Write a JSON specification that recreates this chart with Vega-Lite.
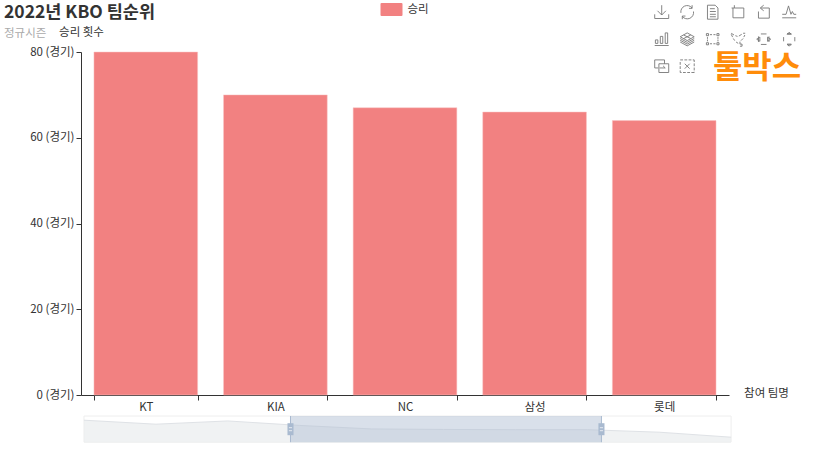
{
"$schema":"https://vega.github.io/schema/vega-lite/v6.json",
"width":648,"height":343,
"autosize":{"type":"none"},
"padding":{"left":81,"top":52,"right":102,"bottom":55},
"background":"white",
"config":{"font":"Noto Sans CJK KR","view":{"stroke":null}},
"title":{"text":"2022년 KBO 팀순위","subtitle":"정규시즌","anchor":"start","frame":"group","dx":-77,"offset":-41,"fontSize":17.5,"fontWeight":"bold","color":"#333333","subtitleFontSize":11.5,"subtitleColor":"#aaaaaa","subtitlePadding":7},
"resolve":{"scale":{"x":"independent","y":"independent"}},
"layer":[
{"data":{"values":[
{"team":"KT","wins":80,"series":"승리"},
{"team":"KIA","wins":70,"series":"승리"},
{"team":"NC","wins":67,"series":"승리"},
{"team":"삼성","wins":66,"series":"승리"},
{"team":"롯데","wins":64,"series":"승리"}]},
"mark":{"type":"bar","stroke":"#f8c4c4","strokeWidth":0.5},
"encoding":{
"x":{"field":"team","type":"nominal","sort":null,"scale":{"paddingInner":0.2,"paddingOuter":0.1},
"axis":{"title":"참여 팀명","titleX":685,"titleY":-2,"titleAlign":"center","titleBaseline":"middle","titleFontSize":11.5,"titleFontWeight":"normal","titleColor":"#333333","labelAngle":0,"labelFontSize":11.5,"labelColor":"#333333","labelPadding":1,"tickBand":"extent","tickSize":5,"tickColor":"#333333","domainColor":"#333333","grid":false}},
"y":{"field":"wins","type":"quantitative","scale":{"domain":[0,80]},
"axis":{"values":[0,20,40,60,80],"title":"승리 횟수","titleAngle":0,"titleX":0,"titleY":-19.5,"titleAlign":"center","titleBaseline":"middle","titleFontSize":11.5,"titleFontWeight":"normal","titleColor":"#333333","labelExpr":"datum.label + ' (경기)'","labelFontSize":11.5,"labelColor":"#333333","labelPadding":2,"tickSize":5,"tickColor":"#333333","domainColor":"#333333","grid":false}},
"color":{"field":"series","type":"nominal","scale":{"range":["#F28181"]},
"legend":{"title":null,"orient":"none","legendX":299.5,"legendY":-53.5,"symbolType":"M-1,-0.5Q-1,-0.58 -0.9,-0.58H0.9Q1,-0.58 1,-0.5V0.5Q1,0.58 0.9,0.58H-0.9Q-1,0.58 -1,0.5Z","symbolSize":484,"symbolStrokeWidth":0,"labelFontSize":11.5,"labelColor":"#333333","labelOffset":5}}
}},
{"layer":[
{"data":{"name":"frame","values":[{"start":0,"end":9,"low":0,"high":104.8}]},
"mark":{"type":"rect","fill":"#ffffff","stroke":"#eeeeee","strokeWidth":1},
"encoding":{
"x":{"field":"start","type":"quantitative","axis":null,"scale":{"domain":[-0.0417,8.971],"zero":false,"nice":false}},
"x2":{"field":"end"},
"y":{"field":"low","type":"quantitative","axis":null,"scale":{"domain":[188.8,1560.8],"zero":false,"nice":false}},
"y2":{"field":"high"}}},
{"data":{"values":[
{"i":0,"v":88},{"i":1,"v":72},{"i":2,"v":85},{"i":3,"v":67},{"i":4,"v":53},
{"i":5,"v":51},{"i":6,"v":50},{"i":7,"v":50},{"i":8,"v":40},{"i":9,"v":20}]},
"mark":{"type":"area","fill":"#EAECEE","line":{"color":"#DFE2E6","strokeWidth":1}},
"encoding":{
"x":{"field":"i","type":"quantitative","axis":null},
"y":{"field":"v","type":"quantitative","axis":null},
"y2":{"datum":0}}},
{"data":{"values":[{"start":2.872,"end":7.197,"low":0,"high":104.8}]},
"mark":{"type":"rect","fill":"#AEBDD2","opacity":0.47},
"encoding":{
"x":{"field":"start","type":"quantitative","axis":null},
"x2":{"field":"end"},
"y":{"field":"low","type":"quantitative","axis":null},
"y2":{"field":"high"}}},
{"data":{"values":[{"edge":2.872,"low":0,"high":104.8},{"edge":7.197,"low":0,"high":104.8}]},
"mark":{"type":"rule","color":"#A9BAD0","strokeWidth":1},
"encoding":{
"x":{"field":"edge","type":"quantitative","axis":null},
"y":{"field":"low","type":"quantitative","axis":null},
"y2":{"field":"high"}}},
{"data":{"values":[{"start":2.83,"end":2.914,"low":28,"high":76},{"start":7.155,"end":7.239,"low":28,"high":76}]},
"mark":{"type":"rect","fill":"#A9BAD0"},
"encoding":{
"x":{"field":"start","type":"quantitative","axis":null},
"x2":{"field":"end"},
"y":{"field":"low","type":"quantitative","axis":null},
"y2":{"field":"high"}}},
{"data":{"values":[
{"start":2.85,"end":2.894,"low":46},{"start":2.85,"end":2.894,"low":58},
{"start":7.175,"end":7.219,"low":46},{"start":7.175,"end":7.219,"low":58}]},
"mark":{"type":"rule","color":"#E4E9F0","strokeWidth":1},
"encoding":{
"x":{"field":"start","type":"quantitative","axis":null},
"x2":{"field":"end"},
"y":{"field":"low","type":"quantitative","axis":null}}}
]},
{"layer":[
{"data":{"values":[
{"col":0,"row":0,"icon":"download"},{"col":1,"row":0,"icon":"refresh"},{"col":2,"row":0,"icon":"data"},
{"col":3,"row":0,"icon":"zoom"},{"col":4,"row":0,"icon":"back"},{"col":5,"row":0,"icon":"line"},
{"col":0,"row":1,"icon":"bar"},{"col":1,"row":1,"icon":"stack"},{"col":2,"row":1,"icon":"rect"},
{"col":3,"row":1,"icon":"polygon"},{"col":4,"row":1,"icon":"lineX"},{"col":5,"row":1,"icon":"lineY"},
{"col":0,"row":2,"icon":"keep"},{"col":1,"row":2,"icon":"clear"}]},
"mark":{"type":"point","filled":false,"stroke":"#777777","strokeWidth":0.9,"size":196,"opacity":1},
"encoding":{
"x":{"field":"col","type":"quantitative","axis":null,"scale":{"domain":[-22.773,2.639],"zero":false,"nice":false}},
"y":{"field":"row","type":"quantitative","axis":null,"scale":{"domain":[1.474,14.178],"reverse":true,"zero":false,"nice":false}},
"shape":{"field":"icon","type":"nominal","legend":null,"scale":{
"domain":["download","refresh","data","zoom","back","line","bar","stack","rect","polygon","lineX","lineY","keep","clear"],
"range":[
"M0,-1V0.4M-0.6,-0.2L0,0.4L0.6,-0.2M-1,0.3V0.9H1V0.3",
"M-0.9,0.1A0.9,0.9 0 0 1 0.7,-0.6M0.9,-0.1A0.9,0.9 0 0 1 -0.7,0.6M0.7,-1V-0.55H0.25M-0.7,1V0.55H-0.25",
"M-0.75,-1H0.35L0.75,-0.6V1H-0.75ZM-0.4,-0.5H0.3M-0.4,-0.1H0.45M-0.4,0.3H0.45M-0.4,0.65H0.45",
"M-0.55,-1V-0.6H0.8V0.8H-0.75V-0.6M-0.95,-0.6H-0.55",
"M-0.4,-0.6H0.8V0.85H-0.75V-0.1M0,-1L-0.5,-0.6L0,-0.2",
"M-1,0.8H1M-1,0.3H-0.45L-0.1,-0.9L0.25,0.3L0.45,-0.1L0.65,0.3H1",
"M-1,0.9H1M-0.9,0.6V0.1H-0.55V0.6ZM-0.2,0.6V-0.4H0.15V0.6ZM0.5,0.6V-0.9H0.85V0.6Z",
"M0,-0.9L1,-0.35L0,0.2L-1,-0.35ZM-1,-0.1L0,0.45L1,-0.1M-1,0.15L0,0.7L1,0.15M-1,0.4L0,0.95L1,0.4M-0.5,-0.6L0.5,-0.1M0.5,-0.6L-0.5,-0.1",
"M-0.9,-0.8H-0.6V-0.5H-0.9ZM0.6,-0.8H0.9V-0.5H0.6ZM-0.9,0.5H-0.6V0.8H-0.9ZM0.6,0.5H0.9V0.8H0.6ZM-0.4,-0.65H-0.1M0.1,-0.65H0.4M-0.4,0.65H-0.1M0.1,0.65H0.4M-0.75,-0.3V-0.05M-0.75,0.05V0.3M0.75,-0.3V-0.05M0.75,0.05V0.3",
"M-1,-0.85L-0.6,-0.6M-0.4,-0.5L-0.1,-0.4M0.1,-0.45L0.5,-0.7M0.7,-0.85H1M0.95,-0.6L0.8,-0.3M0.7,-0.1L0.4,0.2M0.25,0.35V0.7H0.55V1H0.25M0,0.6L-0.3,0.4M-0.5,0.2L-0.7,-0.1M-0.8,-0.3L-1,-0.7",
"M-0.4,-0.75H0.4M-0.4,0.75H0.4M-0.75,-0.4V0.4M0.75,-0.4V0.4M-1,0L-0.55,-0.3V0.3ZM1,0L0.55,-0.3V0.3Z",
"M-0.3,-0.8H0.3M-0.3,0.8H0.3M-0.8,-0.3V0.3M0.8,-0.3V0.3M0,-1L-0.3,-0.7H0.3ZM0,1L-0.3,0.7H0.3Z",
"M-0.5,0.25H-1V-0.9H0.4V-0.35M-0.4,-0.35H1V0.9H-0.4ZM-0.3,0.25H0.5M0.2,-0.05L0.5,0.25",
"M-1,-0.9H-0.6M-0.4,-0.9H0M0.2,-0.9H0.6M0.8,-0.9H1V-0.6M1,-0.4V0M1,0.2V0.6M1,0.8V0.9H0.6M0.4,0.9H0M-0.2,0.9H-0.6M-0.8,0.9H-1V0.6M-1,0.4V0M-1,-0.2V-0.6M-0.35,-0.35L0.35,0.35M0.35,-0.35L-0.35,0.35"
]}}
}},
{"data":{"values":[{"col":3.74,"row":2.085,"label":"툴박스"}]},
"mark":{"type":"text","fontSize":32,"fontWeight":"bold","color":"#FF8C0A","align":"center","baseline":"middle"},
"encoding":{
"x":{"field":"col","type":"quantitative","axis":null},
"y":{"field":"row","type":"quantitative","axis":null},
"text":{"field":"label"}}}
]}
]
}
